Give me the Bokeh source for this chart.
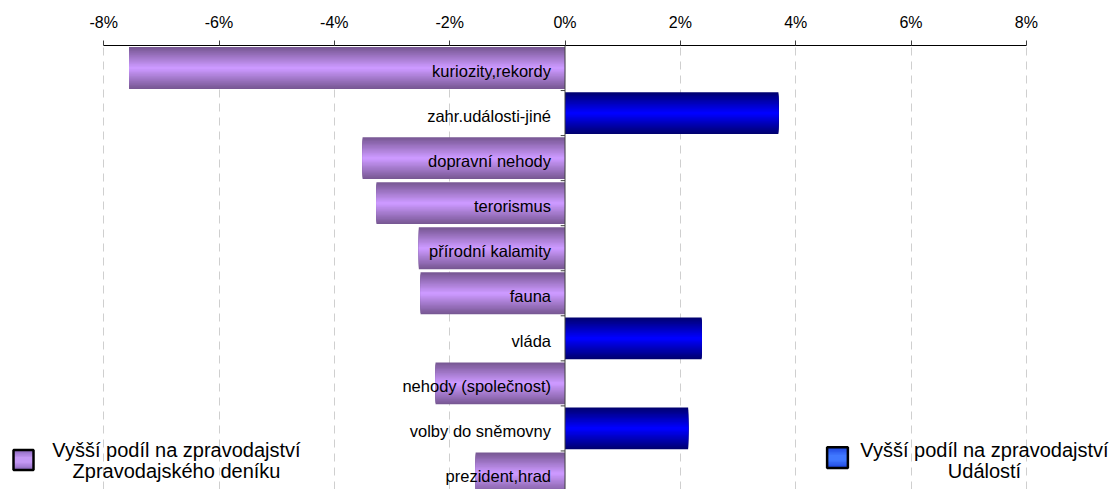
from bokeh.plotting import figure
from bokeh.models import FixedTicker, Span, Range1d, CustomJSTickFormatter
from bokeh.embed import file_html
from bokeh.resources import INLINE
from bokeh.core.properties import value

categories = ["kuriozity,rekordy", "zahr.události-jiné", "dopravní nehody", "terorismus",
              "přírodní kalamity", "fauna", "vláda", "nehody (společnost)",
              "volby do sněmovny", "prezident,hrad"]
values = [-7.56, 3.70, -3.51, -3.27, -2.535, -2.505, 2.37, -2.245, 2.135, -1.55]
tick_values = [-8, -6, -4, -2, 0, 2, 4, 6, 8]
legend_left = ["Vyšší podíl na zpravodajství", "Zpravodajského deníku"]
legend_right = ["Vyšší podíl na zpravodajství", "Událostí"]

FONT = value("Liberation Sans")
n = len(categories)
ys = [n - 0.5 - i for i in range(n)]

W, H, TOP = 1110, 489, 45
p = figure(width=W, height=H, output_backend="svg", toolbar_location=None,
           x_axis_location="above", x_range=Range1d(-9.789, 9.459),
           y_range=Range1d(n - (H - TOP) / 45.05, n), min_border_left=0, min_border_right=0,
           min_border_bottom=0, min_border_top=TOP)
p.outline_line_color = None
p.background_fill_color = "white"
p.yaxis.visible = False
p.ygrid.visible = False

ax = p.xaxis[0]
ax.ticker = FixedTicker(ticks=tick_values)
ax.bounds = (tick_values[0], tick_values[-1])
ax.formatter = CustomJSTickFormatter(code="return tick.toFixed(0) + '%';")
ax.major_tick_out = 5
ax.major_tick_in = 0
ax.minor_tick_out = 0
ax.minor_tick_in = 0
ax.axis_line_color = "black"
ax.major_tick_line_color = "#404040"
ax.major_label_text_font = "Liberation Sans"
ax.major_label_text_font_size = "16px"
ax.major_label_text_color = "black"
ax.major_label_standoff = 10

p.xgrid.ticker = FixedTicker(ticks=[t for t in tick_values if t != 0])
p.xgrid.grid_line_color = "#CFCFCF"
p.xgrid.grid_line_dash = "8 6"
p.xgrid.grid_line_width = 1


def lerp(c1, c2, t):
    return "#%02x%02x%02x" % tuple(int(round(a + (b - a) * t)) for a, b in zip(c1, c2))


purple_edge, purple_mid = (0x78, 0x58, 0x94), (0xcc, 0x99, 0xff)
blue_edge, blue_mid = (0x00, 0x00, 0x70), (0x00, 0x00, 0xff)
bar_h = 0.93
layers = 16
for k in range(layers):
    t = k / (layers - 1)
    h = bar_h * (1 - k / layers)
    cols = [lerp(purple_edge, purple_mid, t) if v < 0 else lerp(blue_edge, blue_mid, t) for v in values]
    p.hbar(y=ys, left=0, right=values, height=h, fill_color=cols, line_color=None)

# vertical zero line and category boundary ticks
p.add_layout(Span(location=0, dimension="height", line_color="#404040", line_width=1))
bounds = [float(i) for i in range(1, n)]
p.segment(x0=[-0.075] * len(bounds), x1=[0] * len(bounds), y0=bounds, y1=bounds,
          line_color="#404040", line_width=1)

p.text(x=[0] * n, y=ys, text=categories, text_align="right", text_baseline="middle",
       x_offset=-14, y_offset=3, text_font=FONT, text_font_size="16.5px", text_color="black")

# legends
for k in range(6):
    t = k / 5
    s = 1 - k / 7
    p.rect(x=[-9.39], y=[0.80], width=0.347, height=0.444 * s,
           fill_color=lerp((0x90, 0x6c, 0xc0), (0xc4, 0x98, 0xf4), t), line_color=None)
    p.rect(x=[4.725], y=[0.85], width=0.36, height=0.46 * s,
           fill_color=lerp((0x20, 0x48, 0xe0), (0x40, 0x78, 0xff), t), line_color=None)
p.rect(x=[-9.39], y=[0.80], width=0.347, height=0.444, fill_color=None,
       line_color="black", line_width=2.5)
p.rect(x=[4.725], y=[0.85], width=0.36, height=0.46, fill_color=None,
       line_color="black", line_width=2.5)
p.text(x=[-6.737, -6.737], y=[1.03, 0.56], text=legend_left, text_align="center",
       text_baseline="middle", text_font=FONT, text_font_size="20px", text_color="black")
p.text(x=[7.274, 7.274], y=[1.03, 0.56], text=legend_right, text_align="center",
       text_baseline="middle", text_font=FONT, text_font_size="20px", text_color="black")

open("out.html", "w").write(file_html(p, INLINE))
